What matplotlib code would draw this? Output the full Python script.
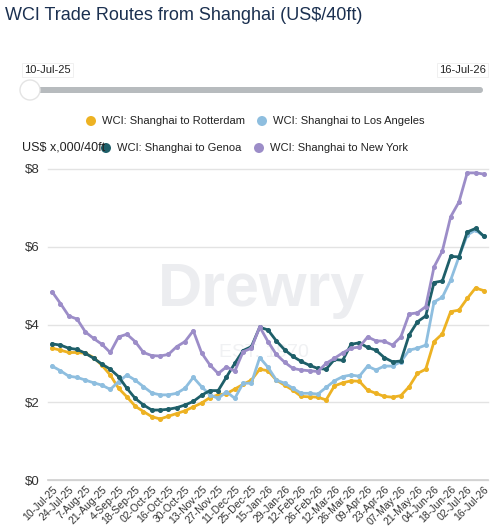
import matplotlib
matplotlib.use('Agg')
import matplotlib.pyplot as plt
from matplotlib.patches import FancyBboxPatch, Circle

plt.rcParams['font.family'] = ['Liberation Sans', 'DejaVu Sans']

# weekly dates (categorical, every other one labelled)
dates = ['10-Jul-25', '17-Jul-25', '24-Jul-25', '31-Jul-25', '7-Aug-25', '14-Aug-25',
         '21-Aug-25', '28-Aug-25', '4-Sep-25', '11-Sep-25', '18-Sep-25', '25-Sep-25',
         '02-Oct-25', '09-Oct-25', '16-Oct-25', '23-Oct-25', '30-Oct-25', '06-Nov-25',
         '13-Nov-25', '20-Nov-25', '27-Nov-25', '04-Dec-25', '11-Dec-25', '18-Dec-25',
         '25-Dec-25', '08-Jan-26', '15-Jan-26', '22-Jan-26', '29-Jan-26', '05-Feb-26',
         '12-Feb-26', '19-Feb-26', '26-Feb-26', '05-Mar-26', '12-Mar-26', '19-Mar-26',
         '26-Mar-26', '02-Apr-26', '09-Apr-26', '16-Apr-26', '23-Apr-26', '30-Apr-26',
         '07-May-26', '14-May-26', '21-May-26', '28-May-26', '04-Jun-26', '11-Jun-26',
         '18-Jun-26', '25-Jun-26', '02-Jul-26', '09-Jul-26', '16-Jul-26']

rotterdam = [3.39, 3.34, 3.28, 3.28, 3.26, 3.15, 2.95, 2.70, 2.36, 2.14, 1.90, 1.76, 1.63,
             1.57, 1.64, 1.71, 1.78, 1.88, 1.98, 2.12, 2.19, 2.22, 2.34, 2.46, 2.57, 2.85,
             2.81, 2.57, 2.44, 2.31, 2.15, 2.14, 2.13, 2.06, 2.42, 2.50, 2.55, 2.54, 2.31,
             2.23, 2.15, 2.13, 2.17, 2.40, 2.74, 2.85, 3.56, 3.76, 4.33, 4.37, 4.67, 4.94, 4.87]

los_angeles = [2.93, 2.81, 2.67, 2.64, 2.57, 2.50, 2.44, 2.33, 2.53, 2.70, 2.57, 2.40, 2.24,
               2.19, 2.19, 2.23, 2.36, 2.64, 2.40, 2.19, 2.10, 2.27, 2.10, 2.49, 2.49, 3.15,
               2.90, 2.57, 2.49, 2.36, 2.23, 2.23, 2.21, 2.38, 2.55, 2.66, 2.70, 2.67, 2.93,
               2.83, 2.93, 2.93, 3.04, 3.34, 3.39, 3.47, 4.58, 4.70, 5.14, 5.74, 6.30, 6.43, 6.27]

genoa = [3.50, 3.47, 3.39, 3.36, 3.26, 3.13, 2.98, 2.85, 2.66, 2.36, 2.10, 1.93, 1.80,
         1.80, 1.82, 1.86, 1.93, 2.02, 2.18, 2.30, 2.30, 2.65, 3.00, 3.33, 3.43, 3.93,
         3.86, 3.58, 3.35, 3.18, 3.05, 2.95, 2.87, 2.85, 3.10, 3.08, 3.49, 3.53, 3.41,
         3.34, 3.15, 3.04, 3.06, 3.73, 4.07, 4.22, 5.08, 5.12, 5.75, 5.74, 6.38, 6.47, 6.27]

new_york = [4.84, 4.54, 4.22, 4.14, 3.81, 3.64, 3.49, 3.28, 3.68, 3.75, 3.56, 3.28, 3.20,
            3.19, 3.23, 3.43, 3.56, 3.84, 3.27, 2.96, 2.74, 2.91, 2.80, 3.30, 3.39, 3.94,
            3.56, 3.23, 3.03, 2.87, 2.83, 2.81, 2.79, 3.00, 3.13, 3.27, 3.39, 3.42, 3.68,
            3.58, 3.57, 3.47, 3.68, 4.27, 4.30, 4.46, 5.48, 5.89, 6.77, 7.15, 7.90, 7.90, 7.87]

series_names = ['WCI: Shanghai to Rotterdam', 'WCI: Shanghai to Los Angeles',
                'WCI: Shanghai to Genoa', 'WCI: Shanghai to New York']
colors = ['#EDB223', '#8EBEDF', '#1E5F69', '#9C8DC8']
yticks = [0, 2, 4, 6, 8]

W, H = 500, 529
fig = plt.figure(figsize=(W / 100, H / 100), dpi=100)

# main plot area
ax = fig.add_axes([48 / W, (H - 480) / H, 440 / W, (480 - 169) / H])
x = list(range(len(dates)))
for vals, col in zip([rotterdam, los_angeles, genoa, new_york], colors):
    ax.plot(x, vals, color=col, lw=2, marker='o', ms=2.6, zorder=3)

ax.set_xlim(-0.5, len(dates) - 0.5)
ax.set_ylim(0, 8)
ax.set_yticks(yticks)
ax.set_yticklabels(['$%d' % v for v in yticks], fontsize=9.5, color='#333333')
ax.set_xticks(x[::2])
ax.set_xticklabels(dates[::2], rotation=45, ha='right', rotation_mode='anchor',
                   fontsize=7.5, color='#333333')
ax.tick_params(length=0, pad=6)
ax.tick_params(axis='x', pad=3)
for s in ax.spines.values():
    s.set_visible(False)
ax.grid(axis='y', color='#e3e3e3', lw=1, zorder=0)
ax.set_axisbelow(True)
for gl in ax.get_ygridlines():
    gl.set_clip_on(False)
ax.axhline(0, color='#cfcfcf', lw=1.2, zorder=1, clip_on=False)

# watermark
ax.text(0.485, 0.61, 'Drewry', transform=ax.transAxes, fontsize=44, fontweight='bold',
        color='#ecedf0', ha='center', va='center', zorder=0)
ax.text(0.49, 0.41, 'EST. 1970', transform=ax.transAxes, fontsize=14,
        color='#f0f1f3', ha='center', va='center', zorder=0)

# overlay in pixel coordinates for title, slider and legend
ov = fig.add_axes([0, 0, 1, 1], zorder=-1)
ov.set_xlim(0, W)
ov.set_ylim(H, 0)
ov.axis('off')

ov.text(5, 16, 'WCI Trade Routes from Shanghai (US$/40ft)', fontsize=13,
        color='#1b3050', va='center', ha='left')

# date slider
ov.add_patch(FancyBboxPatch((30, 87), 453, 6, boxstyle='round,pad=0,rounding_size=3',
                            fc='#b7bbbe', ec='none'))
ov.add_patch(Circle((30, 90), 10, fc='white', ec='#e4e4e4', lw=1, zorder=3))
ov.text(24, 70, '10-Jul-25', fontsize=8, color='#222222', va='center', ha='left',
        bbox=dict(fc='white', ec='#eeeeee', lw=0.6, pad=1.5))
ov.text(486, 70, '16-Jul-26', fontsize=8, color='#222222', va='center', ha='right',
        bbox=dict(fc='white', ec='#eeeeee', lw=0.6, pad=1.5))

# legend
legend_pos = [(91, 121), (262, 121), (106, 148), (259, 148)]
for (lx, ly), name, col in zip(legend_pos, series_names, colors):
    ov.add_patch(Circle((lx, ly), 5, fc=col, ec='none'))
    ov.text(lx + 11, ly, name, fontsize=8, color='#222222', va='center', ha='left')
ov.text(22, 148, 'US$ x,000/40ft', fontsize=9, color='#222222', va='center', ha='left')

plt.savefig('out.png', dpi=100)
